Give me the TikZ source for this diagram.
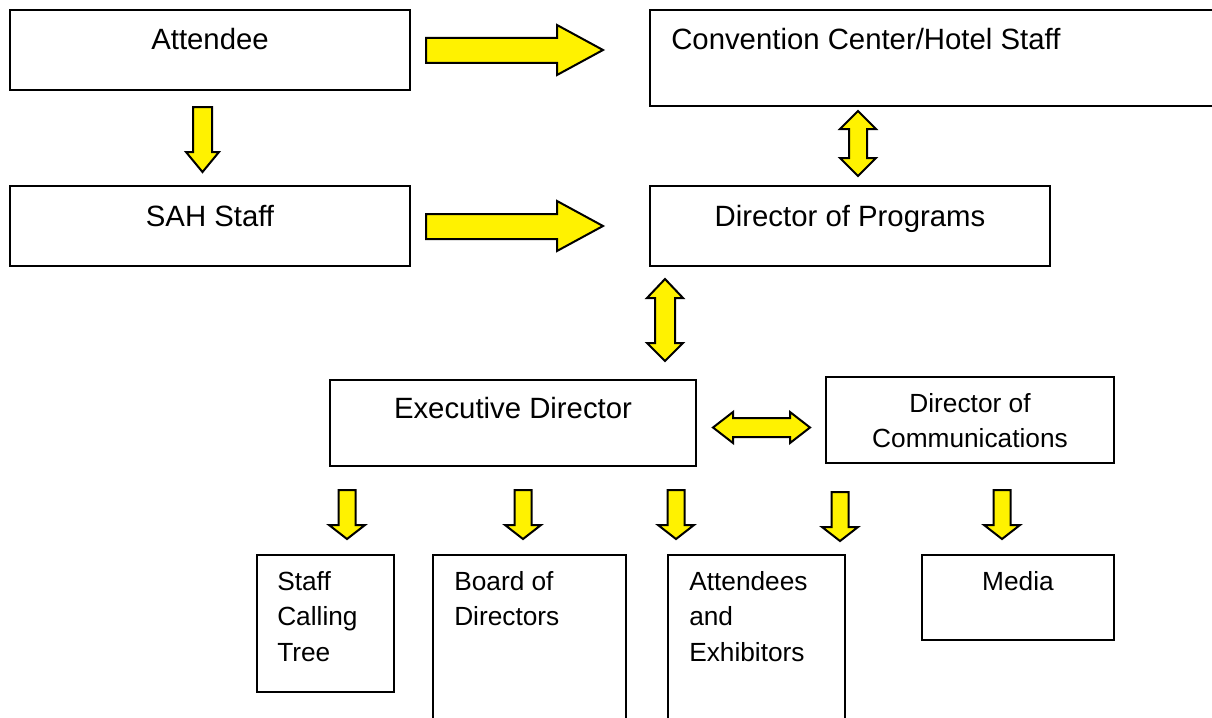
\documentclass[tikz,border=0pt]{standalone}
\usepackage{fontspec}
\setmainfont{Liberation Sans}
\usetikzlibrary{fit}
\begin{document}
\begin{tikzpicture}[x=0.75pt,y=-0.75pt,
  box/.style={draw=black, line width=1.4pt, inner sep=0pt, fill=white},
  big/.style={font=\fontsize{22}{26}\selectfont, inner sep=0pt},
  small/.style={font=\fontsize{19.7}{26.5}\selectfont, inner sep=0pt},
  blk/.style={fill=yellow, draw=black, line width=1.5pt, line join=miter}]
\useasboundingbox (0,0) rectangle (1212,717);
\clip (0,0) rectangle (1212,717);
\fill[white] (0,0) rectangle (1212,717);
% boxes
\node[box, fit={(10,10) (410,90)}] (att) {};
\node[box, fit={(650,10) (1240,106)}] (conv) {};
\node[box, fit={(10,186) (410,266)}] (sah) {};
\node[box, fit={(650,186) (1050,266)}] (prog) {};
\node[box, fit={(330,380) (696,466)}] (exec) {};
\node[box, fit={(826,377) (1114,463)}] (comm) {};
\node[box, fit={(257,555) (394,692)}] (tree) {};
\node[box, fit={(433,555) (626,740)}] (board) {};
\node[box, fit={(668,555) (845,740)}] (attex) {};
\node[box, fit={(922,555) (1114,640)}] (media) {};
% labels
\node[big, anchor=base] (attl) at (210,50) {Attendee};
\node[big, anchor=base west] (convl) at (671,50) {Convention Center/Hotel Staff};
\node[big, anchor=base] (sahl) at (210,226) {SAH Staff};
\node[big, anchor=base] (progl) at (850,226) {Director of Programs};
\node[big, anchor=base] (execl) at (513,418) {Executive Director};
\node[small, anchor=base] (comml1) at (970,412) {Director of};
\node[small, anchor=base] (comml2) at (970,447) {Communications};
\node[small, anchor=base west] (treel1) at (277,590) {Staff};
\node[small, anchor=base west] (treel2) at (277,625) {Calling};
\node[small, anchor=base west] (treel3) at (277,661) {Tree};
\node[small, anchor=base west] (boardl1) at (454,590) {Board of};
\node[small, anchor=base west] (boardl2) at (454,625) {Directors};
\node[small, anchor=base west] (attexl1) at (689,590) {Attendees};
\node[small, anchor=base west] (attexl2) at (689,625) {and};
\node[small, anchor=base west] (attexl3) at (689,661) {Exhibitors};
\node[small, anchor=base] (medial) at (1018,590) {Media};
% block arrows
\draw[blk] (426,38)--(557,38)--(557,25)--(603,50)--(557,75)--(557,63)--(426,63)--cycle;
\draw[blk] (426,214)--(557,214)--(557,201)--(603,226)--(557,251)--(557,239)--(426,239)--cycle;
\draw[blk] (193,107)--(212,107)--(212,152)--(219,152)--(202.5,172)--(186,152)--(193,152)--cycle;
% double vertical arrows
\draw[blk] (858,111)--(876,129)--(867,129)--(867,158)--(876,158)--(858,176)--(840,158)--(849,158)--(849,129)--(840,129)--cycle;
\draw[blk] (665,279)--(683,298)--(675,298)--(675,343)--(683,343)--(665,361)--(647,343)--(655,343)--(655,298)--(647,298)--cycle;
% double horizontal arrow
\draw[blk] (713,427.5)--(733,412)--(733,418)--(790,418)--(790,412)--(810,427.5)--(790,443)--(790,437)--(733,437)--(733,443)--cycle;
% bottom down arrows
\foreach \cx/\t in {347/490, 523/490, 676/490, 840/492, 1002/490}{
  \draw[blk] (\cx-8.5,\t)--(\cx+8.5,\t)--(\cx+8.5,\t+35)--(\cx+18,\t+35)--(\cx,\t+49)--(\cx-18,\t+35)--(\cx-8.5,\t+35)--cycle;
}
\end{tikzpicture}
\end{document}
